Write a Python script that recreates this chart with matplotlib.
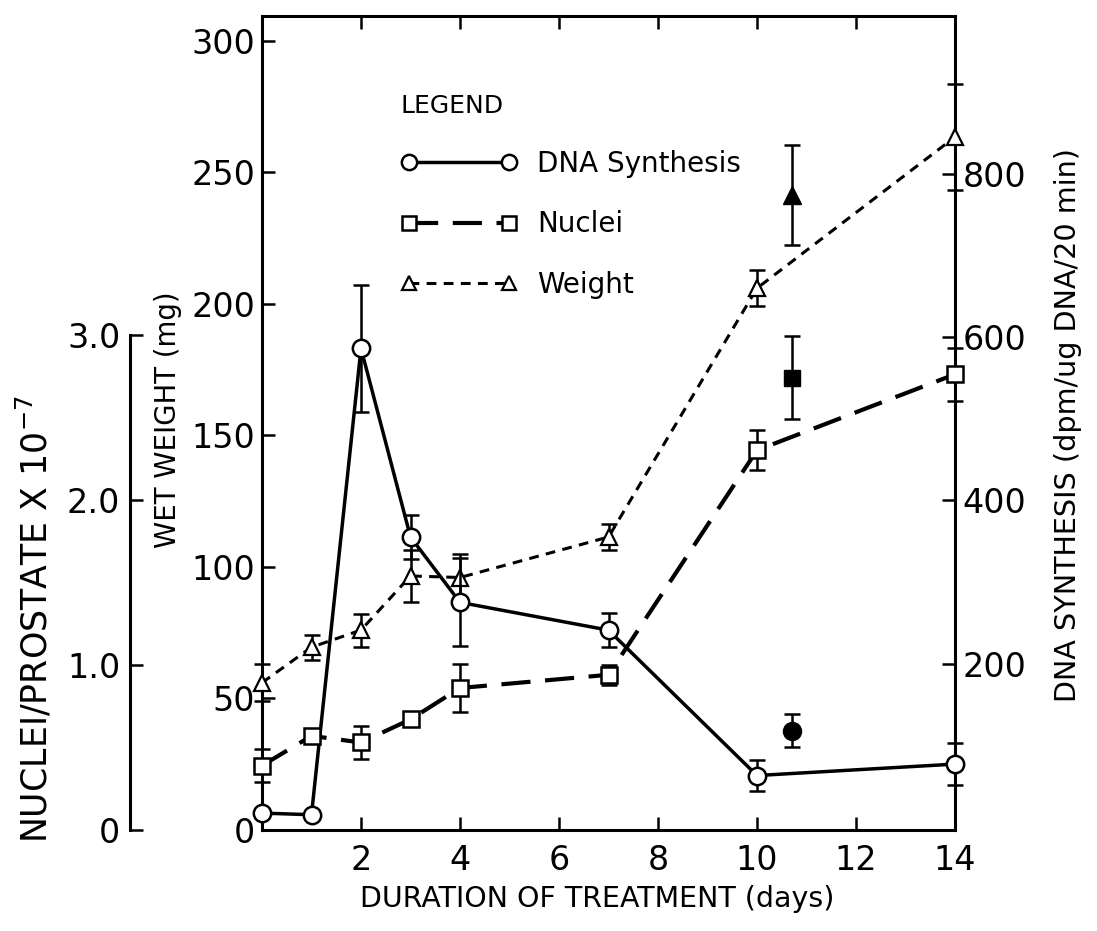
import numpy as np
import matplotlib
matplotlib.use("Agg")
import matplotlib.pyplot as plt
from matplotlib.lines import Line2D

# values
days = [0, 1, 2, 3, 4, 7, 10, 14]
dna_synthesis = [17, 15, 586, 355, 275, 241, 63, 77]
dna_err = [np.nan, np.nan, 78, 27, 54, 21, 19, 26]
nuclei = [0.39, 0.57, 0.53, 0.67, 0.86, 0.94, 2.30, 2.76]
nuclei_err = [0.10, np.nan, 0.10, np.nan, 0.145, 0.06, 0.12, 0.16]
weight = [56, 69.5, 76, 96.6, 96, 111.4, 206, 263.5]
weight_err = [7, 4.8, 6.3, 10, 9, 5, 6.8, 20]

# filled symbols (separate group)
extra_day = [10.7]
extra_dna = [118]
extra_dna_err = [20]
extra_nuclei = [2.74]
extra_nuclei_err = [0.25]
extra_weight = [241.6]
extra_weight_err = [19]

x_ticks = [2, 4, 6, 8, 10, 12, 14]
weight_ticks = [0, 50, 100, 150, 200, 250, 300]
dna_ticks = [200, 400, 600, 800]
nuclei_ticks = [0, 1, 2, 3]
nuclei_labels = ["0", "1.0", "2.0", "3.0"]

LW_SPINE = 2.2
TICK = dict(direction="in", length=9.5, width=1.8, labelsize=24)

fig = plt.figure(figsize=(10.97, 9.31), dpi=100)
ax = fig.add_axes([262 / 1097, 101 / 931, 693 / 1097, 814 / 931])
ax_dna = ax.twinx()
ax_nuc = ax.twinx()

ax.set_xlim(0, 14)
ax.set_ylim(0, 309.5)
ax_dna.set_ylim(-3.7, 993)
ax_nuc.set_ylim(0, 4.93)

err_kw = dict(fmt="none", ecolor="k", elinewidth=1.8, capsize=5.5, capthick=1.8)

# weight (left axis)
ax.errorbar(days, weight, yerr=weight_err, clip_on=False, **err_kw)
ax.plot(days, weight, color="k", lw=2.2, ls=(0, (3.2, 2.4)), marker="^", ms=12,
        mfc="white", mec="k", mew=1.6, clip_on=False, zorder=3)
ax.errorbar(extra_day, extra_weight, yerr=extra_weight_err, **err_kw)
ax.plot(extra_day, extra_weight, "k^", ms=13, zorder=3)

# DNA synthesis (right axis)
ax_dna.errorbar(days, dna_synthesis, yerr=dna_err, clip_on=False, **err_kw)
ax_dna.plot(days, dna_synthesis, color="k", lw=2.5, ls="-", marker="o", ms=12.5,
            mfc="white", mec="k", mew=1.8, clip_on=False, zorder=3)
ax_dna.errorbar(extra_day, extra_dna, yerr=extra_dna_err, **err_kw)
ax_dna.plot(extra_day, extra_dna, "ko", ms=13, zorder=3)

# nuclei (far left axis)
ax_nuc.errorbar(days, nuclei, yerr=nuclei_err, clip_on=False, **err_kw)
ax_nuc.plot(days, nuclei, color="k", lw=3, ls=(0, (7, 3.5)), marker="s", ms=11,
            mfc="white", mec="k", mew=1.8, clip_on=False, zorder=3)
ax_nuc.errorbar(extra_day, extra_nuclei, yerr=extra_nuclei_err, **err_kw)
ax_nuc.plot(extra_day, extra_nuclei, "ks", ms=12, zorder=3)

# main axes
for s in ax.spines.values():
    s.set_linewidth(LW_SPINE)
ax.set_xticks(x_ticks)
ax.set_xticklabels([str(t) for t in x_ticks])
ax.set_yticks(weight_ticks)
ax.set_yticklabels([str(t) for t in weight_ticks])
ax.tick_params(axis="x", top=True, pad=10, **TICK)
ax.tick_params(axis="y", pad=5, **TICK)
ax.yaxis.get_major_ticks()[0].tick1line.set_visible(False)

ax.set_xlabel("DURATION OF TREATMENT (days)", fontsize=20.5, va="center")
ax.xaxis.set_label_coords(0.483, -0.085)
ax.set_ylabel("WET WEIGHT (mg)", fontsize=19.8, va="center")
ax.yaxis.set_label_coords(-0.136, 0.504)

# DNA axis
for s in ax_dna.spines.values():
    s.set_visible(False)
ax_dna.set_yticks(dna_ticks)
ax_dna.set_yticklabels([str(t) for t in dna_ticks])
ax_dna.tick_params(axis="y", pad=5.5, **TICK)
ax_dna.set_ylabel("DNA SYNTHESIS (dpm/ug DNA/20 min)", fontsize=20.6,
                  va="center", rotation=90)
ax_dna.yaxis.set_label_coords(1.163, 0.4975)

# nuclei axis, detached on the left
for k, s in ax_nuc.spines.items():
    s.set_visible(k == "left")
ax_nuc.spines["left"].set_position(("axes", -0.1905))
ax_nuc.spines["left"].set_linewidth(LW_SPINE)
ax_nuc.spines["left"].set_bounds(0, 3)
ax_nuc.yaxis.set_ticks_position("left")
ax_nuc.yaxis.set_label_position("left")
ax_nuc.set_yticks(nuclei_ticks)
ax_nuc.set_yticklabels(nuclei_labels)
ax_nuc.tick_params(axis="y", pad=7, **TICK)
ax_nuc.set_ylabel("NUCLEI/PROSTATE X 10$^{-7}$", fontsize=25, va="center")
ax_nuc.yaxis.set_label_coords(-0.327, 0.259)

# legend
handles = [
    Line2D([], [], color="k", lw=2.5, marker="o", ms=11, mfc="white", mec="k", mew=1.8),
    Line2D([], [], color="k", lw=3, ls=(0, (7, 3.5)), marker="s", ms=10, mfc="white",
           mec="k", mew=1.8),
    Line2D([], [], color="k", lw=2.2, ls=(0, (3.2, 2.4)), marker="^", ms=10, mfc="white",
           mec="k", mew=1.6),
]
leg = ax.legend(handles, ["DNA Synthesis", "Nuclei", "Weight"], title="LEGEND",
                loc="upper left", bbox_to_anchor=(0.164, 0.935), frameon=False,
                numpoints=2, fontsize=20, handlelength=4.2, handletextpad=0.72,
                labelspacing=1.16, alignment="left",
                title_fontproperties={"size": 18})

fig.savefig("out.png", dpi=100)
